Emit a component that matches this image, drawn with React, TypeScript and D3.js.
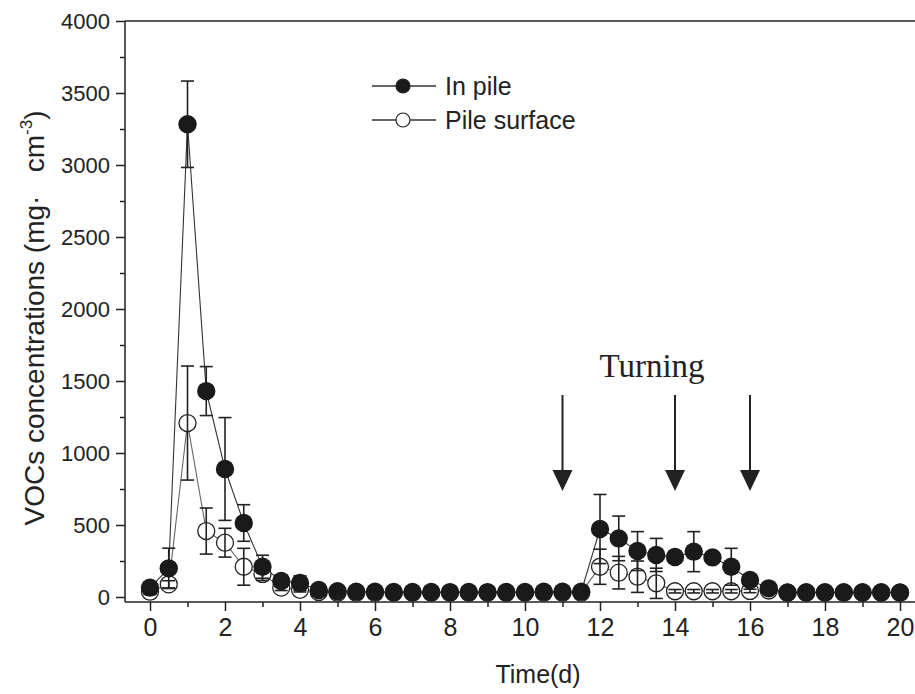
import React, { useEffect, useRef } from 'react';
import * as d3 from 'd3';

// sampling days (every half day)
const days = [
  0, 0.5, 1, 1.5, 2, 2.5, 3, 3.5, 4, 4.5, 5, 5.5, 6, 6.5, 7, 7.5, 8, 8.5, 9, 9.5, 10,
  10.5, 11, 11.5, 12, 12.5, 13, 13.5, 14, 14.5, 15, 15.5, 16, 16.5, 17, 17.5, 18, 18.5, 19, 19.5, 20,
];

const inPile = [
  65, 199, 3283, 1430, 889, 514, 210, 111, 97, 49, 40, 37, 36, 35, 35, 35, 34, 35, 34, 35, 35,
  36, 36, 37, 472, 407, 319, 292, 278, 315, 275, 210, 118, 60, 32, 33, 33, 33, 33, 33, 32,
];
const inPileErr = [
  30, 140, 300, 170, 357, 127, 80, 40, 50, 20, 15, 5, 5, 5, 5, 5, 5, 5, 5, 5, 5,
  5, 5, 5, 240, 155, 135, 115, 40, 139, 20, 128, 30, 15, 5, 5, 5, 5, 5, 5, 5,
];

const pileSurface = [
  37, 88, 1208, 458, 377, 210, 160, 65, 50, 35, 30, 30, 30, 30, 30, 30, 30, 30, 30, 30, 30,
  30, 30, 30, 210, 169, 141, 95, 40, 40, 40, 40, 42, 45, 30, 30, 30, 30, 30, 30, 30,
];
const pileSurfaceErr = [
  20, 25, 396, 160, 100, 128, 45, 20, 15, 10, 10, 10, 10, 10, 10, 10, 10, 10, 10, 10, 10,
  10, 10, 10, 122, 113, 109, 105, 12, 12, 12, 12, 12, 12, 10, 10, 10, 10, 10, 10, 10,
];

const xMajor = [0, 2, 4, 6, 8, 10, 12, 14, 16, 18, 20];
const xMinor = [1, 3, 5, 7, 9, 11, 13, 15, 17, 19];
const yMajor = [0, 500, 1000, 1500, 2000, 2500, 3000, 3500, 4000];
const yMinor = [250, 750, 1250, 1750, 2250, 2750, 3250, 3750];

const turningDays = [11, 14, 16];
const legendLabels = ['In pile', 'Pile surface'];

const ink = '#222';

const App = () => {
  const ref = useRef(null);

  useEffect(() => {
    const svg = d3.select(ref.current);
    svg.selectAll('*').remove();

    const left = 125, right = 915, top = 21, axisY = 602;

    const x = d3.scaleLinear().domain([0, 20]).range([150, 900]);
    const y = d3.scaleLinear().domain([0, 4000]).range([597, 21]);

    // frame lines
    svg.append('line').attr('x1', left).attr('x2', right).attr('y1', axisY).attr('y2', axisY)
      .attr('stroke', ink).attr('stroke-width', 1.5);
    svg.append('line').attr('x1', left).attr('x2', left).attr('y1', top).attr('y2', axisY)
      .attr('stroke', ink).attr('stroke-width', 1.5);
    svg.append('line').attr('x1', left).attr('x2', right).attr('y1', top).attr('y2', top)
      .attr('stroke', ink).attr('stroke-width', 1.5);

    // x axis
    const gx = svg.append('g').attr('transform', `translate(0,${axisY})`)
      .call(d3.axisBottom(x).tickValues(xMajor).tickSize(9).tickPadding(7).tickFormat(d3.format('d')));
    gx.call(g => g.select('.domain').remove());
    gx.selectAll('line').attr('stroke', ink).attr('stroke-width', 1.5);
    gx.selectAll('text')
      .style('font-family', '"Liberation Sans Narrow", "Arial Narrow", "Liberation Sans", sans-serif')
      .style('font-size', '25px').attr('fill', ink);

    const gxm = svg.append('g').attr('transform', `translate(0,${axisY})`)
      .call(d3.axisBottom(x).tickValues(xMinor).tickSize(5).tickFormat(() => ''));
    gxm.call(g => g.select('.domain').remove());
    gxm.selectAll('line').attr('stroke', ink).attr('stroke-width', 1.5);

    // y axis
    const gy = svg.append('g').attr('transform', `translate(${left},0)`)
      .call(d3.axisLeft(y).tickValues(yMajor).tickSize(9).tickPadding(6).tickFormat(d3.format('d')));
    gy.call(g => g.select('.domain').remove());
    gy.selectAll('line').attr('stroke', ink).attr('stroke-width', 1.5);
    gy.selectAll('text')
      .style('font-family', '"Liberation Sans", Arial, sans-serif')
      .style('font-size', '22px').attr('fill', ink);

    const gym = svg.append('g').attr('transform', `translate(${left},0)`)
      .call(d3.axisLeft(y).tickValues(yMinor).tickSize(5).tickFormat(() => ''));
    gym.call(g => g.select('.domain').remove());
    gym.selectAll('line').attr('stroke', ink).attr('stroke-width', 1.5);

    // axis titles
    svg.append('text')
      .attr('x', 538).attr('y', 683)
      .attr('text-anchor', 'middle')
      .style('font-family', '"Liberation Sans", Arial, sans-serif')
      .style('font-size', '25px').attr('fill', ink)
      .text('Time(d)');

    const yt = svg.append('text')
      .attr('transform', 'translate(44,318) rotate(-90)')
      .attr('text-anchor', 'middle')
      .style('font-family', '"Liberation Sans", Arial, sans-serif')
      .style('font-size', '28px').attr('fill', ink);
    yt.append('tspan').text('VOCs concentrations (mg·\u00A0\u00A0 cm');
    yt.append('tspan').attr('dy', -12).style('font-size', '17px').text('-3');
    yt.append('tspan').attr('dy', 12).text(')');

    // series lines
    const idx = d3.range(days.length);
    const line = vals => d3.line().x(i => x(days[i])).y(i => y(vals[i]))(idx);

    svg.append('path').attr('d', line(pileSurface)).attr('fill', 'none')
      .attr('stroke', '#666').attr('stroke-width', 1.1);
    svg.append('path').attr('d', line(inPile)).attr('fill', 'none')
      .attr('stroke', '#333').attr('stroke-width', 1.1);

    const errorBars = (vals, errs) => {
      const g = svg.append('g').attr('stroke', ink).attr('stroke-width', 1.6);
      idx.forEach(i => {
        const cx = x(days[i]);
        const y1 = y(vals[i] + errs[i]);
        const y2 = y(vals[i] - errs[i]);
        g.append('line').attr('x1', cx).attr('x2', cx).attr('y1', y1).attr('y2', y2);
        g.append('line').attr('x1', cx - 6.5).attr('x2', cx + 6.5).attr('y1', y1).attr('y2', y1);
        g.append('line').attr('x1', cx - 6.5).attr('x2', cx + 6.5).attr('y1', y2).attr('y2', y2);
      });
    };

    // pile surface: open circles, bars drawn over them
    svg.append('g').selectAll('circle').data(idx).enter().append('circle')
      .attr('cx', i => x(days[i])).attr('cy', i => y(pileSurface[i])).attr('r', 8.5)
      .attr('fill', '#fff').attr('stroke', ink).attr('stroke-width', 1.3);
    errorBars(pileSurface, pileSurfaceErr);

    // in pile: filled circles
    errorBars(inPile, inPileErr);
    svg.append('g').selectAll('circle').data(idx).enter().append('circle')
      .attr('cx', i => x(days[i])).attr('cy', i => y(inPile[i])).attr('r', 9.2)
      .attr('fill', '#1a1a1a');

    // turning arrows
    turningDays.forEach(d => {
      const cx = x(d);
      svg.append('line').attr('x1', cx).attr('x2', cx).attr('y1', 395).attr('y2', 474)
        .attr('stroke', ink).attr('stroke-width', 2);
      svg.append('path')
        .attr('d', `M${cx - 10},470 L${cx + 10},470 L${cx},491 Z`)
        .attr('fill', ink);
    });
    svg.append('text')
      .attr('x', 652).attr('y', 377)
      .attr('text-anchor', 'middle')
      .style('font-family', '"Liberation Serif", "Times New Roman", serif')
      .style('font-size', '33px').attr('fill', ink)
      .text('Turning');

    // legend
    legendLabels.forEach((label, k) => {
      const ly = 86 + k * 34;
      svg.append('line').attr('x1', 372).attr('x2', 436).attr('y1', ly).attr('y2', ly)
        .attr('stroke', '#333').attr('stroke-width', 1.3);
      svg.append('circle').attr('cx', 403).attr('cy', ly).attr('r', 7)
        .attr('fill', k === 0 ? '#1a1a1a' : '#fff')
        .attr('stroke', ink).attr('stroke-width', 1.2);
      svg.append('text')
        .attr('x', 445).attr('y', ly + 9)
        .style('font-family', '"Liberation Sans", Arial, sans-serif')
        .style('font-size', '25px').attr('fill', ink)
        .text(label);
    });
  }, []);

  return (
    <svg
      ref={ref}
      width={915}
      height={694}
      style={{ position: 'absolute', left: 0, top: 0, background: '#fff' }}
    />
  );
};

export default App;
